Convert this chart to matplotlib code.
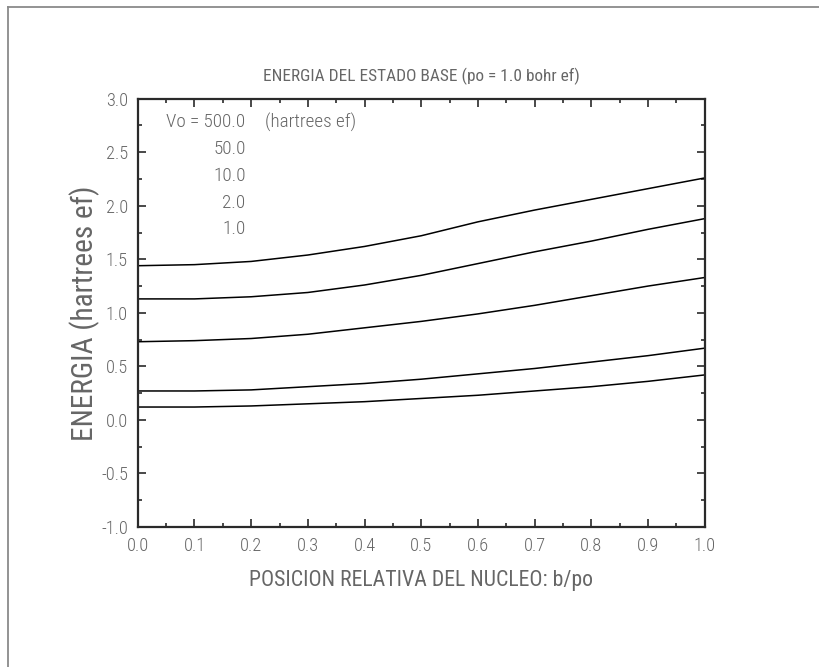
import matplotlib
matplotlib.use("Agg")
import matplotlib.pyplot as plt
from matplotlib.lines import Line2D
from matplotlib.ticker import MultipleLocator, FormatStrFormatter

plt.rcParams["font.family"] = ["Roboto Condensed", "Liberation Sans", "DejaVu Sans"]
plt.rcParams["font.weight"] = 300
plt.rcParams["axes.unicode_minus"] = False

# Relative nucleus position b/po
b_po = [0.0, 0.1, 0.2, 0.3, 0.4, 0.5, 0.6, 0.7, 0.8, 0.9, 1.0]

# Ground-state energy (hartrees ef) for each well depth Vo
vo_labels = ["500.0", "50.0", "10.0", "2.0", "1.0"]
e_vo500 = [1.44, 1.45, 1.48, 1.54, 1.62, 1.72, 1.85, 1.96, 2.06, 2.16, 2.26]
e_vo50 = [1.13, 1.13, 1.15, 1.19, 1.26, 1.35, 1.46, 1.57, 1.67, 1.78, 1.88]
e_vo10 = [0.73, 0.74, 0.76, 0.80, 0.86, 0.92, 0.99, 1.07, 1.16, 1.25, 1.33]
e_vo2 = [0.27, 0.27, 0.28, 0.31, 0.34, 0.38, 0.43, 0.48, 0.54, 0.60, 0.67]
e_vo1 = [0.12, 0.12, 0.13, 0.15, 0.17, 0.20, 0.23, 0.27, 0.31, 0.36, 0.42]
energies = [e_vo500, e_vo50, e_vo10, e_vo2, e_vo1]

TEXT = "#666666"
INK = "#2a2a2a"

fig = plt.figure(figsize=(8.2, 6.67), dpi=100)
fig.patch.set_facecolor("white")
renderer = fig.canvas.get_renderer()


def size_for(text, px, rotation=0):
    """Font size that makes `text` span `px` pixels along its baseline."""
    probe = fig.text(0, 0, text, fontsize=10, rotation=rotation)
    bb = probe.get_window_extent(renderer)
    probe.remove()
    span = bb.height if rotation else bb.width
    return 10 * px / span


FS_TITLE = size_for("ENERGIA DEL ESTADO BASE (po = 1.0 bohr ef)", 310)
FS_XLAB = size_for("POSICION RELATIVA DEL NUCLEO: b/po", 337)
FS_YLAB = size_for("ENERGIA (hartrees ef)", 250, rotation=90)
FS_TICK = size_for("0.0", 22.5)
FS_KEY = size_for("Vo = 500.0", 80)

# page frame (top and left edges)
fig.add_artist(Line2D([0.0098, 1.0], [0.9895, 0.9895], color="#8a8a8a", lw=1.3))
fig.add_artist(Line2D([0.0098, 0.0098], [0.0, 0.9895], color="#8a8a8a", lw=1.3))

ax = fig.add_axes([0.168, 0.210, 0.6915, 0.642])

for e in energies:
    ax.plot(b_po, e, color="black", lw=1.1)

ax.set_xlim(0.0, 1.0)
ax.set_ylim(-1.0, 3.0)

ax.xaxis.set_major_locator(MultipleLocator(0.1))
ax.xaxis.set_minor_locator(MultipleLocator(0.05))
ax.yaxis.set_major_locator(MultipleLocator(0.5))
ax.yaxis.set_minor_locator(MultipleLocator(0.25))
ax.xaxis.set_major_formatter(FormatStrFormatter("%.1f"))
ax.yaxis.set_major_formatter(FormatStrFormatter("%.1f"))

ax.tick_params(which="both", direction="in", top=True, right=True,
               color=INK, width=1.2, labelcolor=TEXT, labelsize=FS_TICK)
ax.tick_params(which="major", length=5.5)
ax.tick_params(which="minor", length=3)
ax.tick_params(axis="x", which="major", pad=7)
ax.tick_params(axis="y", which="major", pad=7)

for s in ax.spines.values():
    s.set_color(INK)
    s.set_linewidth(1.6)

ax.set_title("ENERGIA DEL ESTADO BASE (po = 1.0 bohr ef)", color=TEXT,
             fontsize=FS_TITLE, pad=13)
ax.set_xlabel("POSICION RELATIVA DEL NUCLEO: b/po", color=TEXT, fontsize=FS_XLAB)
ax.set_ylabel("ENERGIA (hartrees ef)", color=TEXT, fontsize=FS_YLAB)
ax.xaxis.set_label_coords(0.5, -0.124)
ax.xaxis.label.set_va("center")
ax.yaxis.set_label_coords(-0.094, 0.5)
ax.yaxis.label.set_va("center")

# Vo key in the upper-left corner
key_y = [2.78, 2.53, 2.28, 2.03, 1.78]
for i, (lab, ky) in enumerate(zip(vo_labels, key_y)):
    txt = ("Vo = " + lab) if i == 0 else lab
    ax.text(0.19, ky, txt, color=TEXT, fontsize=FS_KEY, ha="right", va="center")
ax.text(0.225, key_y[0], "(hartrees ef)", color=TEXT, fontsize=FS_KEY,
        ha="left", va="center")

fig.savefig("out.png", dpi=100, facecolor="white")
